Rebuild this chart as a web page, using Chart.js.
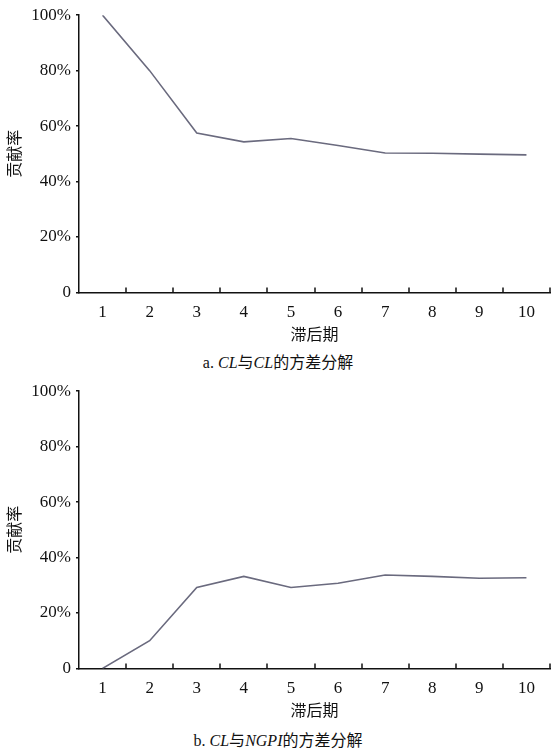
<!DOCTYPE html>
<html>
<head>
<meta charset="utf-8">
<script src="https://cdn.jsdelivr.net/npm/chart.js@4/dist/chart.umd.min.js"></script>
<style>
    body { margin: 0; background: #fff; width: 556px; height: 750px; position: relative; overflow: hidden; }
    .box { position: absolute; left: 0; width: 556px; height: 345px; }
    .caption {
        position: absolute; left: 0; width: 556px; text-align: center;
        font-family: "Liberation Serif", "Noto Sans CJK SC", serif; font-size: 16px; color: #111;
    }
    .caption i { font-style: italic; }
</style>
</head>
<body>
<div class="box" style="top:0"><canvas id="chartA"></canvas></div>
<div class="caption" style="top:349px">a. <i>CL</i>与<i>CL</i>的方差分解</div>
<div class="box" style="top:376px"><canvas id="chartB"></canvas></div>
<div class="caption" style="top:727px">b. <i>CL</i>与<i>NGPI</i>的方差分解</div>
<script>
// Variance decomposition (contribution rate by lag)

const lags = ['1', '2', '3', '4', '5', '6', '7', '8', '9', '10'];
const clOnCl = [1.00, 0.80, 0.575, 0.543, 0.555, 0.53, 0.503, 0.502, 0.499, 0.496];
const clOnNgpi = [0.00, 0.10, 0.292, 0.332, 0.292, 0.307, 0.337, 0.332, 0.325, 0.327];
const yTicks = [0, 0.2, 0.4, 0.6, 0.8, 1.0];

const serif = '"Liberation Serif", "Noto Sans CJK SC", serif';
const lineColor = '#6a6a7e';

// Small tick marks pointing up from the x axis, at category boundaries
const upTicks = {
    id: 'upTicks',
    afterDraw(chart) {
        const x = chart.scales.x;
        const ctx = chart.ctx;
        const half = (x.getPixelForValue(1) - x.getPixelForValue(0)) / 2;
        ctx.save();
        ctx.strokeStyle = '#111';
        ctx.lineWidth = 1.5;
        for (let i = 0; i < lags.length; i++) {
            const px = Math.round(x.getPixelForValue(i) + half);
            ctx.beginPath();
            ctx.moveTo(px, x.top);
            ctx.lineTo(px, x.top - 5);
            ctx.stroke();
        }
        ctx.restore();
    }
};

function makeChart(id, values) {
    const ctx = document.getElementById(id).getContext('2d');
    return new Chart(ctx, {
        type: 'line',
        data: {
            labels: lags,
            datasets: [{
                data: values,
                borderColor: lineColor,
                borderWidth: 1.6,
                pointRadius: 0,
                tension: 0,
                fill: false
            }]
        },
        plugins: [upTicks],
        options: {
            responsive: true,
            maintainAspectRatio: false,
            animation: false,
            layout: { padding: { top: 6, right: 6, left: 0, bottom: 0 } },
            plugins: {
                legend: { display: false },
                tooltip: { enabled: false }
            },
            scales: {
                x: {
                    offset: true,
                    grid: { drawOnChartArea: false, drawTicks: false },
                    border: { color: '#111', width: 1.5 },
                    ticks: {
                        color: '#111',
                        padding: 10,
                        font: { family: serif, size: 17 }
                    },
                    title: {
                        display: true,
                        text: '滞后期',
                        color: '#111',
                        padding: { top: -7, bottom: 0 },
                        font: { family: serif, size: 16 }
                    }
                },
                y: {
                    min: 0,
                    max: 1,
                    afterFit: s => { s.width = 79; },
                    afterBuildTicks: s => { s.ticks = yTicks.map(v => ({ value: v })); },
                    grid: { drawOnChartArea: false, tickLength: 3, color: '#111', lineWidth: 1.5 },
                    border: { color: '#111', width: 1.5 },
                    ticks: {
                        color: '#111',
                        padding: 5,
                        font: { family: serif, size: 17 },
                        callback: v => v === 0 ? '0' : Math.round(v * 100) + '%'
                    },
                    title: {
                        display: true,
                        text: '贡献率',
                        color: '#111',
                        padding: { top: 6, bottom: 0 },
                        font: { family: serif, size: 16 }
                    }
                }
            }
        }
    });
}

makeChart('chartA', clOnCl);
makeChart('chartB', clOnNgpi);
</script>
</body>
</html>
